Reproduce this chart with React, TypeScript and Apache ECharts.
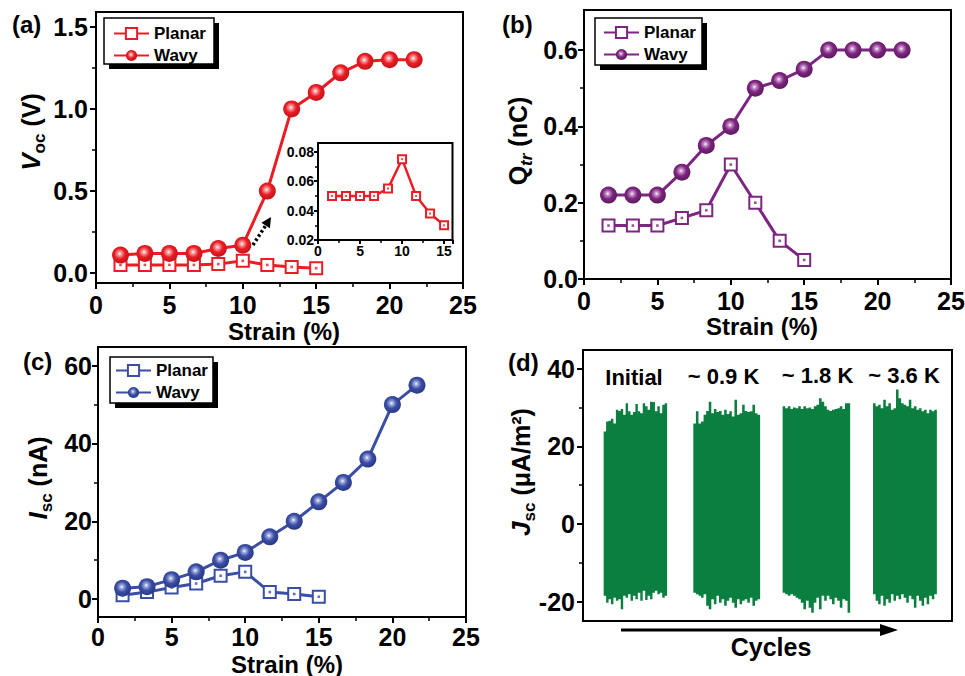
import React, { useEffect, useRef } from 'react';
import * as echarts from 'echarts';

// ---------- data ----------
const strainWavy = [1.67, 3.33, 5, 6.67, 8.33, 10, 11.67, 13.33, 15, 16.67, 18.33, 20, 21.67];
const strainPlanar = [1.67, 3.33, 5, 6.67, 8.33, 10, 11.67, 13.33, 15];

const vocPlanar = [0.05, 0.05, 0.05, 0.05, 0.055, 0.075, 0.05, 0.038, 0.03];
const vocWavy = [0.11, 0.12, 0.12, 0.12, 0.15, 0.17, 0.5, 1.0, 1.1, 1.22, 1.29, 1.3, 1.3];

const qPlanar = [0.14, 0.14, 0.14, 0.16, 0.18, 0.3, 0.2, 0.1, 0.05];
const qWavy = [0.22, 0.22, 0.22, 0.28, 0.35, 0.4, 0.5, 0.52, 0.55, 0.6, 0.6, 0.6, 0.6];

const iPlanar = [1, 1.8, 3, 4, 6, 7, 1.8, 1.3, 0.6];
const iWavy = [2.8, 3.2, 5, 7, 10, 12, 16, 20, 25, 30, 36, 50, 55];

// cycle test blocks (position along the cycles axis, 0-100)
const blockRanges = [[5.6, 22.8], [29.9, 48.0], [54.1, 72.4], [78.6, 95.9]];
const blockLabels = ['Initial', '~ 0.9 K', '~ 1.8 K', '~ 3.6 K'];
const peaks1 = [23.8, 26.4, 26.6, 27.1, 25.9, 29.4, 29.1, 29.6, 28.1, 31.1, 29.0, 28.1, 28.8, 30.9, 29.0, 28.5, 31.1, 30.3, 29.4, 31.5, 31.4, 29.0, 30.3, 28.5, 30.7, 31.1];
const troughs1 = [-18.5, -20.3, -19.4, -20.7, -19.0, -19.8, -19.4, -22.0, -18.5, -19.0, -18.1, -19.8, -18.5, -19.4, -17.7, -19.8, -17.2, -19.6, -18.5, -19.4, -17.7, -17.2, -18.1, -17.7, -19.0, -18.5];
const peaks2 = [25.9, 29.0, 25.9, 26.4, 28.1, 29.1, 31.5, 28.5, 29.6, 28.8, 29.1, 28.1, 29.4, 28.3, 29.0, 27.7, 32.0, 28.1, 28.5, 30.7, 29.1, 28.8, 29.0, 30.7, 28.5, 28.1];
const troughs2 = [-17.7, -18.1, -18.5, -19.0, -18.1, -21.1, -22.0, -19.4, -20.7, -18.5, -20.3, -19.4, -21.1, -19.8, -19.0, -20.3, -21.6, -19.4, -20.7, -19.8, -19.4, -20.3, -19.0, -21.1, -19.8, -19.4];
const peaks3 = [30.3, 29.8, 30.3, 29.6, 30.0, 29.8, 30.3, 29.6, 30.3, 29.8, 30.0, 29.6, 30.3, 30.7, 32.4, 31.5, 30.3, 29.4, 29.1, 29.4, 29.6, 29.8, 30.3, 29.6, 31.1, 31.1];
const troughs3 = [-17.7, -18.1, -18.5, -18.1, -18.5, -19.0, -19.4, -20.3, -22.0, -19.8, -21.6, -22.9, -20.3, -19.0, -22.0, -18.5, -19.8, -18.5, -19.4, -20.7, -19.0, -19.8, -21.6, -19.4, -19.8, -22.9];
const peaks4 = [31.1, 30.3, 30.7, 29.8, 32.0, 30.3, 31.1, 29.4, 29.8, 34.6, 32.4, 31.1, 30.7, 30.3, 32.0, 29.8, 30.3, 29.4, 29.8, 29.0, 29.4, 28.5, 29.4, 29.0, 29.4];
const troughs4 = [-18.1, -19.8, -20.7, -18.5, -21.1, -19.4, -20.3, -18.1, -19.8, -18.5, -19.4, -18.1, -19.0, -20.3, -18.5, -19.4, -21.6, -18.5, -19.8, -21.1, -19.0, -20.7, -18.5, -19.4, -18.1];
const blockPeaks = [peaks1, peaks2, peaks3, peaks4];
const blockTroughs = [troughs1, troughs2, troughs3, troughs4];

const ticksVoc = [0, 0.5, 1.0, 1.5];
const minorVoc = [0.25, 0.75, 1.25];
const ticksQ = [0, 0.2, 0.4, 0.6];
const minorQ = [0.1, 0.3, 0.5];
const ticksI = [0, 20, 40, 60];
const minorI = [10, 30, 50];
const ticksJ = [-20, 0, 20, 40];
const minorJ = [-10, 10, 30];
const ticksInset = [0.02, 0.04, 0.06, 0.08];
const minorInset = [0.03, 0.05, 0.07];

// ---------- styles ----------
const FONT = "'Liberation Sans', Arial, Helvetica, sans-serif";
const RED = '#ec1c24';
const PURPLE = '#7d2580';
const BLUE = '#3a4ea6';
const GREEN = '#0b7f3f';

const ball = (base: string, light: string, dark: string) => ({
  type: 'radial', x: 0.45, y: 0.42, r: 0.62, global: false,
  colorStops: [
    { offset: 0, color: '#ffffff' },
    { offset: 0.16, color: light },
    { offset: 0.5, color: base },
    { offset: 1, color: dark },
  ],
});

const pairs = (xs: number[], ys: number[]) => ys.map((y, i) => [xs[i], y]);

const labelStyle = (size: number) => ({
  fontSize: size, fontWeight: 'bold', fontFamily: FONT, color: '#000',
});

function xAxisDef(gridIndex: number, min: number, max: number, interval: number, size = 25, margin = 9, show = true) {
  return {
    type: 'value', gridIndex, min, max, interval, position: 'bottom',
    axisLine: { show: true, onZero: false, lineStyle: { color: '#000', width: 2 } },
    axisTick: { show, inside: false, length: size > 20 ? 6 : 4, lineStyle: { color: '#000', width: 2 } },
    minorTick: { show, splitNumber: 2, length: size > 20 ? 4 : 3, lineStyle: { color: '#000', width: 1.5 } },
    splitLine: { show: false },
    minorSplitLine: { show: false },
    axisLabel: { show, margin, ...labelStyle(size) },
  };
}

function yAxisDefs(gridIndex: number, min: number, max: number, majors: number[], minors: number[], fmt: (v: number) => string, size = 25, margin = 8) {
  return [
    {
      type: 'value', gridIndex, min, max, position: 'left',
      axisLine: { show: true, onZero: false, lineStyle: { color: '#000', width: 2 } },
      axisTick: { show: true, inside: false, length: size > 20 ? 6 : 4, customValues: majors, lineStyle: { color: '#000', width: 2 } },
      splitLine: { show: false },
      axisLabel: { show: true, margin, customValues: majors, formatter: fmt, ...labelStyle(size) },
    },
    {
      type: 'value', gridIndex, min, max, position: 'left',
      axisLine: { show: false },
      axisTick: { show: true, inside: false, length: size > 20 ? 4 : 3, customValues: minors, lineStyle: { color: '#000', width: 1.5 } },
      splitLine: { show: false },
      axisLabel: { show: false },
    },
  ];
}

function planarSeries(name: string, xi: number, yi: number, data: number[][], color: string, size = 12, lw = 3) {
  return [
    {
      type: 'line', name, xAxisIndex: xi, yAxisIndex: yi, data,
      symbol: 'rect', symbolSize: size, z: 3,
      lineStyle: { color, width: lw },
      itemStyle: { color: '#ffffff', borderColor: color, borderWidth: 2 },
    },
    {
      type: 'scatter', name: name + '-dot', xAxisIndex: xi, yAxisIndex: yi, data,
      symbol: 'rect', symbolSize: size > 10 ? 2.6 : 2, z: 4, silent: true,
      itemStyle: { color },
    },
  ];
}

function wavySeries(name: string, xi: number, yi: number, data: number[][], color: string, fill: any) {
  return {
    type: 'line', name, xAxisIndex: xi, yAxisIndex: yi, data,
    symbol: 'circle', symbolSize: 17, z: 3,
    lineStyle: { color, width: 3 },
    itemStyle: { color: fill },
  };
}

function legendDef(names: string[], left: number, top: number) {
  return {
    data: names, left, top, orient: 'vertical', padding: 0,
    itemWidth: 35, itemHeight: 14, itemGap: 5, selectedMode: false, z: 20,
    textStyle: labelStyle(17),
    formatter: (n: string) => n.split('#')[0],
  };
}

function legendBox(x: number, y: number, w: number, h: number) {
  return [
    { type: 'rect', z: 10, shape: { x: x + 5, y: y + 5, width: w, height: h }, style: { fill: '#000' } },
    { type: 'rect', z: 11, shape: { x, y, width: w, height: h }, style: { fill: '#fff', stroke: '#000', lineWidth: 1.5 } },
  ];
}

function yName(x: number, y: number, text: string) {
  return {
    type: 'text', x, y, rotation: Math.PI / 2, z: 30,
    style: {
      text, align: 'center', verticalAlign: 'middle', fill: '#000',
      fontSize: 25, fontWeight: 'bold', fontFamily: FONT,
      rich: {
        i: { fontSize: 26, fontWeight: 'bold', fontStyle: 'italic', fontFamily: FONT, lineHeight: 34 },
        n: { fontSize: 25, fontWeight: 'bold', fontFamily: FONT, lineHeight: 34 },
        s: { fontSize: 17, fontWeight: 'bold', fontFamily: FONT, lineHeight: 17, verticalAlign: 'bottom' },
        si: { fontSize: 17, fontWeight: 'bold', fontStyle: 'italic', fontFamily: FONT, lineHeight: 17, verticalAlign: 'bottom' },
      },
    },
  };
}

function plainText(x: number, y: number, text: string, size: number, align = 'center') {
  return {
    type: 'text', x, y, z: 30,
    style: { text, align, verticalAlign: 'middle', fill: '#000', fontSize: size, fontWeight: 'bold', fontFamily: FONT },
  };
}

function buildOption() {
  // one datum per block: [start, end, blockIndex]
  const blockData = blockRanges.map(([s, e], b) => [s, e, b]);

  const grid = [
    { left: 96, top: 12, width: 367, height: 271 },
    { left: 584, top: 10, width: 367, height: 269 },
    { left: 98, top: 347, width: 368, height: 270 },
    { left: 583, top: 350, width: 369, height: 271 },
    { left: 318, top: 143, width: 134.5, height: 97, backgroundColor: '#fff' },
  ].map((g) => ({
    show: true, borderColor: '#000', borderWidth: 2, backgroundColor: 'transparent',
    containLabel: false, outerBoundsMode: 'none', ...g,
  }));

  const f1 = (v: number) => v.toFixed(1);
  const f0 = (v: number) => String(Math.round(v));
  const f2 = (v: number) => v.toFixed(2);

  const xAxis = [
    xAxisDef(0, 0, 25, 5),
    xAxisDef(1, 0, 25, 5),
    xAxisDef(2, 0, 25, 5, 25, 7),
    xAxisDef(3, 0, 100, 20, 25, 9, false),
    xAxisDef(4, 0, 16, 5, 14, 4),
  ];
  const yAxis = [
    ...yAxisDefs(0, -0.06, 1.59, ticksVoc, minorVoc, f1),
    ...yAxisDefs(1, 0, 0.705, ticksQ, minorQ, f1, 25, 6),
    ...yAxisDefs(2, -4.6, 64.8, ticksI, minorI, f0, 25, 6),
    ...yAxisDefs(3, -25, 44.8, ticksJ, minorJ, f0),
    ...yAxisDefs(4, 0.02, 0.086, ticksInset, minorInset, f2, 14, 4),
  ];

  const series: any[] = [
    ...planarSeries('Planar#a', 0, 0, pairs(strainPlanar, vocPlanar), RED),
    wavySeries('Wavy#a', 0, 0, pairs(strainWavy, vocWavy), RED, ball(RED, '#f7a3a3', '#b8141a')),
    ...planarSeries('Planar#b', 1, 2, pairs(strainPlanar, qPlanar), PURPLE),
    wavySeries('Wavy#b', 1, 2, pairs(strainWavy, qWavy), PURPLE, ball(PURPLE, '#c996cb', '#571858')),
    ...planarSeries('Planar#c', 2, 4, pairs(strainPlanar, iPlanar), BLUE),
    wavySeries('Wavy#c', 2, 4, pairs(strainWavy, iWavy), BLUE, ball(BLUE, '#a3addf', '#25347c')),
    ...planarSeries('Planar#inset', 4, 8, pairs(strainPlanar, vocPlanar), RED, 8, 2.5),
    {
      type: 'custom', name: 'Jsc', xAxisIndex: 3, yAxisIndex: 6, data: blockData,
      encode: { x: [0, 1] }, silent: true,
      renderItem: (params: any, api: any) => {
        const s = api.value(0);
        const e = api.value(1);
        const b = api.value(2);
        const pk = blockPeaks[b];
        const tr = blockTroughs[b];
        const n = pk.length;
        const w = (e - s) / n;
        const top: number[][] = [];
        const bottom: number[][] = [];
        for (let i = 0; i < n; i++) {
          const x0 = s + i * w;
          const x1 = s + (i + 1) * w;
          top.push(api.coord([x0, pk[i]]), api.coord([x1, pk[i]]));
          bottom.push(api.coord([x0, tr[i]]), api.coord([x1, tr[i]]));
        }
        const points = top.concat(bottom.reverse());
        return {
          type: 'polygon',
          shape: { points },
          style: { fill: GREEN },
        };
      },
    },
  ];

  const legend = [
    legendDef(['Planar#a', 'Wavy#a'], 113, 25),
    legendDef(['Planar#b', 'Wavy#b'], 603, 24),
    legendDef(['Planar#c', 'Wavy#c'], 115, 362),
  ];

  // dotted arrow in (a)
  const tip = [271, 217];
  const dir = [0.533, -0.846];
  const perp = [0.846, 0.533];
  const base = [tip[0] - 10 * dir[0], tip[1] - 10 * dir[1]];

  const graphic = [
    ...legendBox(104, 18, 110, 46),
    ...legendBox(595, 18, 107, 47),
    ...legendBox(110, 357, 103, 46),
    plainText(12, 24, '(a)', 24, 'left'),
    plainText(502, 24, '(b)', 24, 'left'),
    plainText(23, 361, '(c)', 24, 'left'),
    plainText(508, 362, '(d)', 24, 'left'),
    yName(31, 132, '{i|V}{s|oc}{n| (V)}'),
    yName(518, 141, '{n|Q}{si|tr}{n| (nC)}'),
    yName(38, 478, '{i|I}{s|sc}{n| (nA)}'),
    yName(521, 472, '{i|J}{s|sc}{n| (μA/m²)}'),
    plainText(284, 331, 'Strain (%)', 24),
    plainText(762, 326, 'Strain (%)', 24),
    plainText(287, 664, 'Strain (%)', 24),
    plainText(634, 377, blockLabels[0], 22),
    plainText(723.5, 376, blockLabels[1], 22),
    plainText(817.5, 375, blockLabels[2], 22),
    plainText(904, 375, blockLabels[3], 22),
    plainText(771, 647, 'Cycles', 25),
    { type: 'line', z: 30, shape: { x1: 621, y1: 630, x2: 882, y2: 630 }, style: { stroke: '#000', lineWidth: 3 } },
    { type: 'polygon', z: 30, shape: { points: [[880, 624], [898, 630], [880, 636]] }, style: { fill: '#000' } },
    { type: 'line', z: 30, shape: { x1: 253, y1: 245, x2: base[0], y2: base[1] }, style: { stroke: '#000', lineWidth: 3.5, lineDash: [2.5, 2.5] } },
    {
      type: 'polygon', z: 30,
      shape: { points: [[tip[0], tip[1]], [base[0] + 5 * perp[0], base[1] + 5 * perp[1]], [base[0] - 5 * perp[0], base[1] - 5 * perp[1]]] },
      style: { fill: '#000' },
    },
  ];

  return {
    animation: false,
    backgroundColor: '#ffffff',
    textStyle: { fontFamily: FONT },
    grid, xAxis, yAxis, series, legend, graphic,
  };
}

export default function App() {
  const ref = useRef<HTMLDivElement>(null);
  useEffect(() => {
    if (!ref.current) return;
    const chart = echarts.init(ref.current, null, { renderer: 'svg' });
    chart.setOption(buildOption() as any);
    return () => chart.dispose();
  }, []);
  return <div ref={ref} style={{ position: 'fixed', left: 0, top: 0, width: 965, height: 676 }} />;
}
